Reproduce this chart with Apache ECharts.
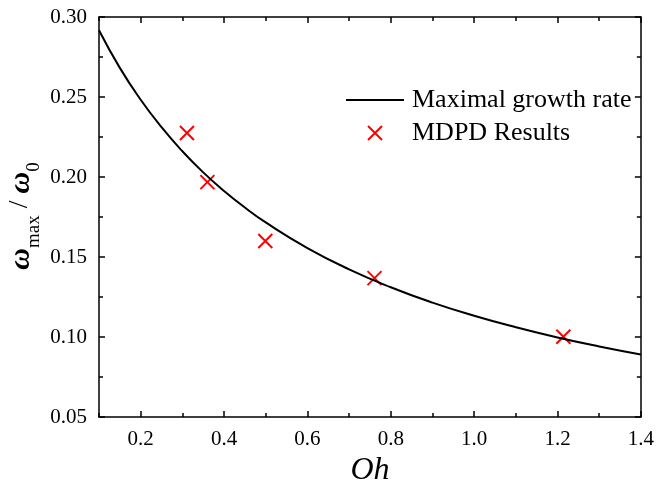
<!DOCTYPE html>
<html>
<head>
<meta charset="utf-8">
<script src="https://cdn.jsdelivr.net/npm/echarts@6/dist/echarts.min.js"></script>
<style>
  html, body { margin: 0; padding: 0; background: #fff; }
  #chart { width: 657px; height: 495px; }
</style>
</head>
<body>
<div id="chart"></div>
<script>
// Maximal growth rate curve, sampled along Oh
const curveOh   = [0.10, 0.15, 0.20, 0.25, 0.30, 0.35, 0.40, 0.45, 0.50, 0.60, 0.70, 0.80, 0.90, 1.00, 1.10, 1.20, 1.30, 1.40];
const curveRate = [0.2917, 0.2682, 0.2483, 0.2311, 0.2161, 0.2029, 0.1913, 0.1809, 0.1716, 0.1556, 0.1423, 0.1311, 0.1215, 0.1133, 0.1061, 0.0997, 0.0941, 0.0891];

// MDPD simulation results
const mdpdOh   = [0.311, 0.360, 0.499, 0.761, 1.214];
const mdpdRate = [0.2275, 0.1968, 0.1600, 0.1368, 0.1002];

// Tick positions
const xMajorTicks = [0.2, 0.4, 0.6, 0.8, 1.0, 1.2, 1.4];
const xMinorTicks = [0.1, 0.3, 0.5, 0.7, 0.9, 1.1, 1.3];

const seriesNames = ['Maximal growth rate', 'MDPD Results'];

const FONT = '"Liberation Serif", "Times New Roman", serif';
const crossPath = 'path://M0,0L10,10M10,0L0,10';

const chart = echarts.init(document.getElementById('chart'), null, { renderer: 'canvas' });

const lineStyle = { color: '#000', width: 1.5 };

function xAxisDef(pos, ticks, len, showLabel, showLine) {
  return {
    type: 'value', position: pos, min: 0.1, max: 1.4,
    axisLine: { show: showLine, lineStyle },
    axisTick: { show: true, inside: true, length: len, customValues: ticks, lineStyle },
    axisLabel: showLabel ? {
      show: true, customValues: xMajorTicks, margin: 12,
      fontFamily: FONT, fontSize: 21, color: '#000',
      formatter: v => v.toFixed(1)
    } : { show: false },
    splitLine: { show: false }
  };
}

function yAxisDef(pos, showLabel) {
  return {
    type: 'value', position: pos, min: 0.05, max: 0.30, interval: 0.05,
    axisLine: { show: true, lineStyle },
    axisTick: { show: true, inside: true, length: 6, lineStyle },
    minorTick: { show: true, splitNumber: 2, length: 4, lineStyle },
    axisLabel: showLabel ? {
      show: true, margin: 12, fontFamily: FONT, fontSize: 21, color: '#000',
      formatter: v => v.toFixed(2)
    } : { show: false },
    splitLine: { show: false }
  };
}

const option = {
  backgroundColor: '#fff',
  animation: false,
  grid: { left: 99, right: 15, top: 17, bottom: 78, containLabel: false },
  xAxis: [
    Object.assign(xAxisDef('bottom', xMajorTicks, 6, true, true), {
      name: 'Oh', nameLocation: 'middle', nameGap: 29,
      nameTextStyle: { fontFamily: FONT, fontSize: 32, fontStyle: 'italic', color: '#000' }
    }),
    xAxisDef('bottom', xMinorTicks, 4, false, false),
    xAxisDef('top', xMajorTicks, 6, false, true),
    xAxisDef('top', xMinorTicks, 4, false, false)
  ],
  yAxis: [yAxisDef('left', true), yAxisDef('right', false)],
  legend: {
    left: 340, top: 82, orient: 'vertical',
    itemWidth: 58, itemHeight: 14, itemGap: 7,
    textStyle: { fontFamily: FONT, fontSize: 26, color: '#000', lineHeight: 26, padding: [0, 0, 0, 3] },
    data: [
      { name: seriesNames[0], itemStyle: { opacity: 0 } },
      { name: seriesNames[1], icon: crossPath, itemStyle: { color: 'none', borderColor: '#ff0000', borderWidth: 2 } }
    ]
  },
  graphic: [{
    type: 'text', x: 22, y: 216, rotation: Math.PI / 2,
    style: {
      text: '{w|ω}{sub|max}{sl| / }{w|ω}{sub|0}',
      align: 'center', verticalAlign: 'middle',
      rich: {
        w:   { fontFamily: FONT, fontSize: 30, fontStyle: 'italic', fontWeight: 'bold', fill: '#000', lineHeight: 32, verticalAlign: 'top' },
        sub: { fontFamily: FONT, fontSize: 19, fill: '#000', lineHeight: 19, padding: [19, 0, 0, 0], verticalAlign: 'top' },
        sl:  { fontFamily: FONT, fontSize: 28, fill: '#000', lineHeight: 32, verticalAlign: 'top' }
      }
    }
  }],
  series: [
    {
      name: seriesNames[0], type: 'line', smooth: true, symbol: 'none',
      xAxisIndex: 0, yAxisIndex: 0,
      lineStyle: { color: '#000', width: 2 },
      itemStyle: { color: '#000' },
      data: curveOh.map((x, i) => [x, curveRate[i]])
    },
    {
      name: seriesNames[1], type: 'scatter', symbol: crossPath, symbolSize: 14,
      xAxisIndex: 0, yAxisIndex: 0,
      itemStyle: { color: 'none', borderColor: '#ff0000', borderWidth: 2, opacity: 1 },
      data: mdpdOh.map((x, i) => [x, mdpdRate[i]])
    }
  ]
};

chart.setOption(option);
</script>
</body>
</html>
